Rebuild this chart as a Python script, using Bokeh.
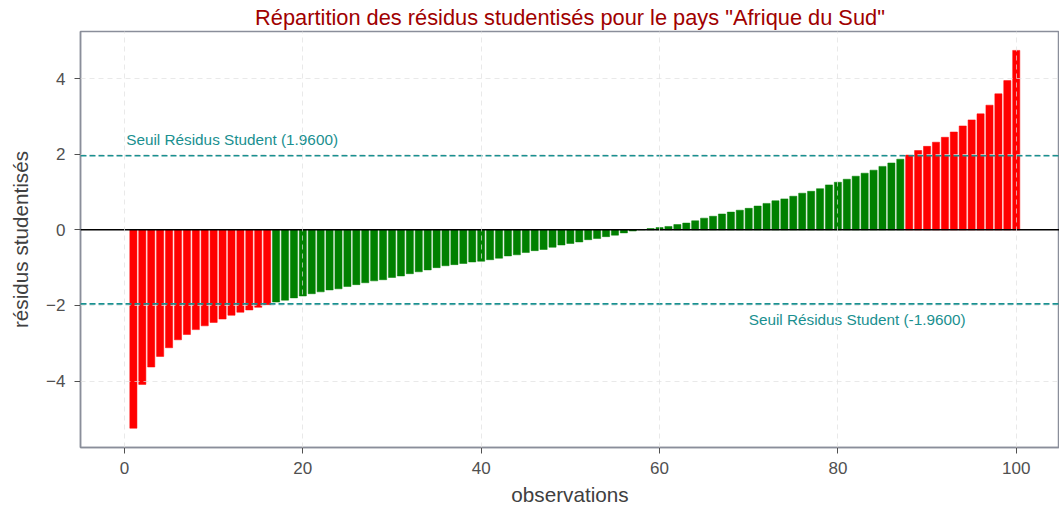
from bokeh.plotting import figure
from bokeh.models import ColumnDataSource, Span, Label, FixedTicker
from bokeh.embed import file_html
from bokeh.resources import INLINE

# Studentized residuals (sorted), observations 1..100
residus = [
    -5.25, -4.09, -3.63, -3.35, -3.12, -2.91, -2.77, -2.64, -2.54, -2.45,
    -2.36, -2.26, -2.18, -2.12, -2.05, -1.98, -1.91, -1.86, -1.80, -1.75,
    -1.69, -1.64, -1.59, -1.56, -1.50, -1.45, -1.40, -1.35, -1.32, -1.26,
    -1.22, -1.16, -1.11, -1.06, -1.00, -0.95, -0.92, -0.89, -0.85, -0.83,
    -0.79, -0.75, -0.69, -0.66, -0.60, -0.55, -0.52, -0.46, -0.40, -0.36,
    -0.32, -0.26, -0.23, -0.18, -0.14, -0.08, -0.03, 0.01, 0.035, 0.06,
    0.09, 0.14, 0.18, 0.24, 0.31, 0.36, 0.42, 0.47, 0.52, 0.57,
    0.63, 0.70, 0.77, 0.82, 0.89, 0.97, 1.02, 1.09, 1.19, 1.26,
    1.34, 1.42, 1.50, 1.58, 1.68, 1.77, 1.87, 1.98, 2.10, 2.21,
    2.32, 2.45, 2.59, 2.75, 2.91, 3.07, 3.30, 3.60, 3.95, 4.75,
]
observations = list(range(1, len(residus) + 1))
seuil = 1.96
x_ticks = [0, 20, 40, 60, 80, 100]
y_ticks = [-4, -2, 0, 2, 4]

colors = ["#ff0000" if abs(r) > seuil else "#008000" for r in residus]
src = ColumnDataSource(dict(x=observations, top=residus, color=colors))

p = figure(width=1059, height=508, output_backend="svg", toolbar_location=None,
           x_range=(-4.93, 104.85), y_range=(-5.76, 5.25),
           min_border_left=80, min_border_right=0, min_border_top=31, min_border_bottom=58)

p.title.text = 'Répartition des résidus studentisés pour le pays "Afrique du Sud"'
p.title.align = "center"
p.title.text_font = "Liberation Sans"
p.title.text_font_size = "21.8px"
p.title.text_font_style = "normal"
p.title.text_color = "#a00000"
p.title.standoff = 4
p.title.offset = 0

p.vbar(x="x", top="top", bottom=0, width=0.8, fill_color="color", line_color="color",
       line_alpha=0.5, source=src)

teal = "#1a9090"
for v in (seuil, -seuil):
    p.add_layout(Span(location=v, dimension="width", line_color=teal,
                      line_dash="6 3", line_width=1.6))
p.add_layout(Span(location=0, dimension="width", line_color="black", line_width=1.5))

p.add_layout(Label(x=0.2, y=seuil + 0.2, text="Seuil Résidus Student (%.4f)" % seuil,
                   text_color=teal, text_font="Liberation Sans", text_font_size="15.3px",
                   text_baseline="bottom"))
p.add_layout(Label(x=70.0, y=-seuil - 0.18, text="Seuil Résidus Student (%.4f)" % (-seuil),
                   text_color=teal, text_font="Liberation Sans", text_font_size="15.3px",
                   text_baseline="top"))

p.xaxis.ticker = FixedTicker(ticks=x_ticks)
p.yaxis.ticker = FixedTicker(ticks=y_ticks)
p.xaxis.axis_label = "observations"
p.yaxis.axis_label = "résidus studentisés"
for ax in (p.xaxis, p.yaxis):
    ax.axis_label_text_font = "Liberation Sans"
    ax.axis_label_text_font_size = "20.7px"
    ax.axis_label_text_font_style = "normal"
    ax.axis_label_text_color = "#404040"
    ax.major_label_text_font = "Liberation Sans"
    ax.major_label_text_font_size = "17px"
    ax.major_label_text_color = "#505050"
    ax.axis_line_color = "#8a8e9a"
    ax.axis_line_width = 1.5
    ax.major_tick_line_color = "#505050"
    ax.major_tick_out = 6
    ax.major_tick_in = 0
    ax.minor_tick_line_color = None
p.xaxis.major_label_standoff = 8
p.xaxis.axis_label_standoff = 6
p.yaxis.major_label_standoff = 9
p.yaxis.axis_label_standoff = 11

p.outline_line_color = "#8a8e9a"
p.outline_line_width = 1.5

p.ygrid.ticker = FixedTicker(ticks=[t for t in y_ticks if t != 0])
for g in (p.xgrid, p.ygrid):
    g.grid_line_color = "#e0e0e0"
    g.grid_line_dash = "5 4"
    g.grid_line_width = 1
    g.level = "overlay"
    g.grid_line_alpha = 0.7

open("out.html", "w").write(file_html(p, INLINE))
